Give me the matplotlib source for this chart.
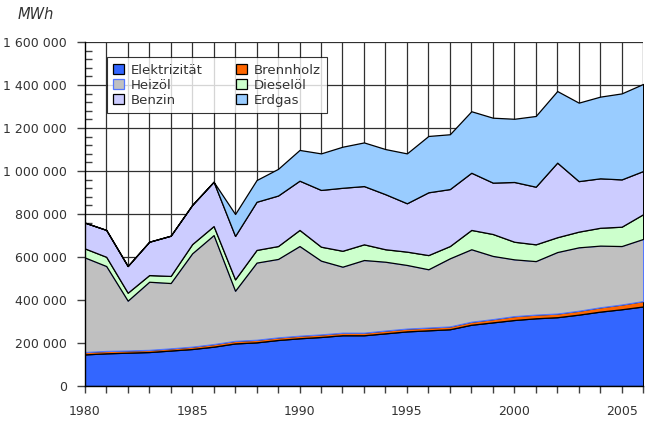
import numpy as np
import matplotlib
matplotlib.use('Agg')
import matplotlib.pyplot as plt
from matplotlib.ticker import FuncFormatter, MultipleLocator

# Energieverbrauch nach Energieträger, in 1000 MWh
years = np.arange(1980, 2007)
elektrizitaet = [147, 152, 155, 158, 165, 172, 183, 198, 203, 214, 222, 228, 236, 236,
                 245, 254, 259, 264, 285, 296, 307, 315, 320, 332, 346, 357, 370]
brennholz = [11, 11, 10, 10, 10, 11, 12, 12, 12, 12, 12, 12, 12, 12,
             13, 13, 13, 13, 14, 15, 18, 17, 17, 18, 20, 22, 25]
heizoel = [440, 395, 232, 317, 304, 434, 507, 233, 359, 365, 417, 343, 307, 338,
           320, 296, 271, 317, 337, 294, 264, 249, 286, 295, 287, 272, 289]
dieseloel = [42, 43, 37, 31, 33, 43, 42, 53, 59, 60, 75, 65, 74, 73,
             58, 62, 66, 57, 90, 102, 82, 78, 69, 73, 83, 90, 115]
benzin = [120, 125, 124, 155, 187, 182, 206, 202, 224, 235, 229, 264, 293, 271,
          256, 225, 292, 265, 266, 239, 278, 268, 347, 235, 230, 220, 201]
erdgas = [0, 0, 0, 0, 0, 0, 0, 102, 101, 124, 143, 170, 191, 203,
          210, 232, 262, 255, 286, 302, 294, 329, 333, 365, 380, 400, 405]

labels = ['Elektrizität', 'Brennholz', 'Heizöl', 'Dieselöl', 'Benzin', 'Erdgas']
colors = ['#3366ff', '#ff6600', '#c0c0c0', '#ccffcc', '#ccccff', '#99ccff']
edges = ['black', 'black', '#5577ff', 'black', 'black', 'black']

series = [elektrizitaet, brennholz, heizoel, dieseloel, benzin, erdgas]
series = [np.array(s) * 1000 for s in series]

plt.rcParams['font.family'] = ['DejaVu Sans']

fig = plt.figure(figsize=(6.47, 4.24), dpi=100)
ax = fig.add_axes([0.131, 0.0896, 0.863, 0.8113])

ax.set_xlim(1980, 2006)
ax.set_ylim(0, 1600000)

# grid behind the areas
for y in range(200000, 1600001, 200000):
    ax.axhline(y, color='#303030', lw=0.9, zorder=0)
for x in years[1:]:
    ax.axvline(x, color='#303030', lw=0.9, zorder=0)

polys = ax.stackplot(years, *series, colors=colors, labels=labels, zorder=2)
for p, ec in zip(polys, edges):
    p.set_edgecolor(ec)
    p.set_linewidth(0.9)

for side in ['top', 'right']:
    ax.spines[side].set_visible(False)
for side in ['left', 'bottom']:
    ax.spines[side].set_color('black')
    ax.spines[side].set_linewidth(1.0)
    ax.spines[side].set_zorder(3)

ax.set_yticks(np.arange(0, 1600001, 200000))
ax.yaxis.set_minor_locator(MultipleLocator(40000))
ax.yaxis.set_major_formatter(FuncFormatter(lambda v, pos: f'{int(v):,}'.replace(',', ' ')))
ax.set_xticks(years)
ax.set_xticklabels([str(y) if y % 5 == 0 else '' for y in years])

ax.tick_params(axis='y', which='major', length=6, width=1, color='#404040',
               labelsize=9, labelcolor='#333333', pad=7)
ax.tick_params(axis='y', which='minor', length=5, width=1, color='#404040', direction='in')
ax.tick_params(axis='x', which='major', length=5, width=1, color='#404040',
               labelsize=9, labelcolor='#333333', pad=9)

fig.text(0.027, 0.965, 'MWh', fontsize=10.5, style='italic', color='#333333', va='center')

handles, labs = ax.get_legend_handles_labels()
order = [0, 2, 4, 1, 3, 5]
leg = ax.legend([handles[i] for i in order], [labs[i] for i in order], ncol=2,
                loc='upper left', bbox_to_anchor=(0.039, 0.956), borderaxespad=0,
                fontsize=9.5, frameon=True, fancybox=False, handlelength=0.8,
                handleheight=0.8, handletextpad=0.5, columnspacing=2.6,
                labelspacing=0.15, borderpad=0.5)
leg.get_frame().set_edgecolor('black')
leg.get_frame().set_linewidth(0.8)
for t in leg.get_texts():
    t.set_color('#333333')
for h, ec in zip(leg.legend_handles, [edges[i] for i in order]):
    h.set_edgecolor(ec)
leg.set_zorder(5)

fig.savefig('out.png', dpi=100)
